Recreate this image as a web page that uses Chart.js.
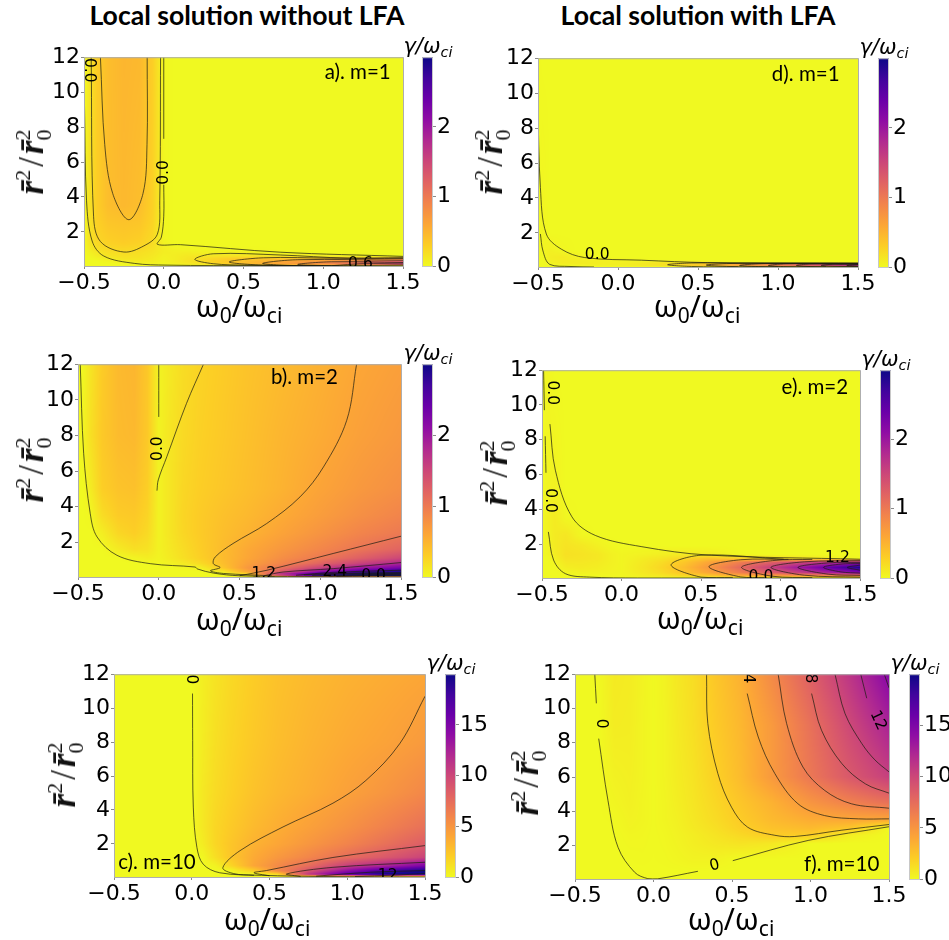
<!DOCTYPE html>
<html>
<head>
<meta charset="utf-8">
<script src="https://cdn.jsdelivr.net/npm/chart.js@4"></script>
<style>
  html, body { margin: 0; padding: 0; background: #fff; overflow: hidden; }
  #page { position: relative; width: 949px; height: 940px; overflow: hidden; }
  canvas { position: absolute; }
  .txt { position: absolute; transform: translate(-50%, -50%); white-space: nowrap; color: #000; line-height: 1; }
  .head { font: bold 26.6px Lato, "Open Sans", sans-serif; }
  .xt { font: 30px "Noto Sans", sans-serif; }
  .xt sub { font-size: 21px; vertical-align: -6px; line-height: 0; }
  .cb { font: italic 21px "DejaVu Sans", sans-serif; }
  .cb sub { font-size: 14.5px; vertical-align: -4px; line-height: 0; }
  .yt { font: italic bold 35px "Liberation Serif", serif; color: #111; }
  .yt .up { font-style: normal; font-weight: normal; margin: 0 3px; }
  .stack { display: inline-block; font-size: 22px; line-height: 21px; text-align: left; font-style: normal; font-weight: normal; }
  .stack span { display: block; }
  .stack.one { vertical-align: 13px; }
  .stack.two { vertical-align: -8px; }
</style>
</head>
<body>
<div id="page"></div>
<script>
const xTicks = [-0.5, 0, 0.5, 1, 1.5];
const yTicks = [2, 4, 6, 8, 10, 12];
const barTicksSmall = [0, 1, 2];
const barTicksBig = [0, 5, 10, 15];

// omega_0/omega_ci positions of the table columns, same for all panels
const omega = [-0.5, -0.47, -0.42, -0.35, -0.25, -0.15, -0.07, 0, 0.07, 0.15, 0.25, 0.4, 0.55, 0.75, 1, 1.25, 1.5];

const rowsA = [12, 3.5, 2.5, 1.6, 1.3, 1, 0.8, 0.6, 0.45, 0.3, 0.15, 0.05];
const gammaA = [
  [0, .12, .3, .42, .48, .46, .3, .02, 0, 0, 0, 0, 0, 0, 0, 0, 0],
  [0, .15, .3, .42, .46, .42, .28, .02, 0, 0, 0, 0, 0, 0, 0, 0, 0],
  [0, .15, .28, .36, .38, .36, .26, .02, 0, 0, 0, 0, 0, 0, 0, 0, 0],
  [0, .15, .25, .3, .33, .3, .22, .02, 0, 0, 0, 0, 0, 0, 0, 0, 0],
  [0, .12, .22, .27, .3, .27, .2, .05, 0, 0, 0, 0, 0, 0, 0, 0, 0],
  [0, .08, .18, .22, .24, .22, .16, .08, .05, .03, .02, .01, .01, 0, 0, 0, 0],
  [0, .05, .12, .18, .2, .18, .14, .08, .07, .08, .06, .06, .05, .01, 0, 0, 0],
  [0, .02, .08, .14, .17, .16, .12, .06, .08, .12, .14, .16, .16, .14, .1, .03, 0],
  [0, 0, .03, .08, .14, .14, .1, .05, .08, .14, .2, .3, .36, .38, .42, .5, .7],
  [0, 0, 0, .03, .08, .1, .08, .04, .08, .15, .22, .35, .45, .6, .75, 1, 1.3],
  [0, 0, 0, 0, .02, .04, .04, .02, .05, .1, .15, .3, .45, .65, .85, 1.2, 1.6],
  [0, 0, 0, 0, 0, 0, 0, 0, 0, 0, 0, 0, 0, 0, 0, 0, 0],
];
const linesA = [
  [[-.497, 9.34], [-.484, 3.78], [-.449, 1.48], [-.376, .62], [-.185, .2], [.02, .1], [.6, .07], [1.5, .05]],
  [[-.455, 12], [-.44, 2.9], [-.397, 1.45], [-.25, .85], [-.125, 1.2], [-.04, 1.87], [-.025, 3.78], [-.02, 12]],
  [[-.397, 12], [-.37, 7], [-.32, 4.2], [-.219, 2.7], [-.13, 4.2], [-.105, 7], [-.104, 12]],
  [[0, 12], [0, 7.33]],
  [[0, 4.7], [0, 2.9], [-.015, 1.7], [-.04, 1.29], [.105, 1.27], [.73, .84], [1.5, .6]],
  [[1.5, .53], [1.15, .5], [.73, .68], [.31, .75], [.195, .43], [.31, .18], [.52, .1], [1, .07], [1.5, .05]],
  [[1.5, .48], [1.05, .5], [.625, .52], [.41, .28], [.625, .1], [1, .07]],
  [[1.5, .38], [.84, .41], [.62, .2], [.8, .08], [1.1, .06]],
  [[1.5, .25], [1.05, .29], [.84, .14], [1.05, .06]],
  [[1.5, .16], [1.25, .18], [1.056, .07]],
];
const labelsA = [
  { x: -.47, y: 11.25, t: "0.0", r: 90 }, { x: 0, y: 5.4, t: "0.0", r: -90 }, { x: 1.233, y: .14, t: "0.6", r: 0 },
];

const rowsB = [12, 8, 5, 3.5, 2.5, 1.6, 1.1, 0.8, 0.55, 0.35, 0.22, 0.12, 0.05];
const gammaB = [
  [0, .02, .15, .32, .45, .48, .35, .04, .12, .2, .26, .32, .38, .44, .52, .6, .66],
  [0, .03, .18, .34, .44, .46, .34, .05, .14, .22, .28, .34, .4, .48, .56, .65, .72],
  [0, 0, .1, .3, .38, .4, .3, .05, .14, .24, .3, .36, .42, .5, .62, .72, .8],
  [0, 0, .02, .2, .32, .34, .26, .05, .14, .25, .32, .4, .46, .56, .68, .8, .9],
  [0, 0, 0, .08, .24, .3, .22, .05, .14, .24, .32, .42, .5, .62, .76, .9, 1],
  [0, 0, 0, 0, .1, .18, .16, .05, .12, .2, .3, .44, .58, .72, .88, 1.04, 1.2],
  [0, 0, 0, 0, 0, .04, .08, .04, .1, .18, .28, .44, .6, .8, 1, 1.25, 1.5],
  [0, 0, 0, 0, 0, 0, 0, .01, .05, .1, .2, .42, .65, .88, 1.2, 1.55, 1.85],
  [0, 0, 0, 0, 0, 0, 0, 0, 0, .02, .05, .36, .72, 1.05, 1.55, 2, 2.3],
  [0, 0, 0, 0, 0, 0, 0, 0, 0, 0, 0, .12, .6, 1.25, 2.1, 2.6, 2.9],
  [0, 0, 0, 0, 0, 0, 0, 0, 0, 0, 0, 0, .3, 1.7, 2.7, 3, 3],
  [0, 0, 0, 0, 0, 0, 0, 0, 0, 0, 0, 0, .1, 1.3, 2.8, 3, 3],
  [0, 0, 0, 0, 0, 0, 0, 0, 0, 0, 0, 0, 0, 0, 0, 0, 0],
];
const linesB = [
  [[-.486, 12], [-.465, 7], [-.424, 3.6], [-.382, 2.3], [-.259, 1.27], [-.053, .8], [.225, .61], [.24, .5], [.338, .27], [.5, .12], [.9, .08], [1.5, .06]],
  [[0, 12], [0, 9.04]],
  [[-.011, 4.9], [-.003, 5.5], [.05, 6.8], [.172, 9.8], [.277, 12]],
  [[1.225, 12], [1.164, 8.85], [1.02, 6.23], [.875, 4.55], [.668, 3.05], [.46, 1.93], [.35, 1.18], [.338, .8], [.38, .58], [.32, .4], [.4, .25], [.7, .12]],
  [[1.5, 2.34], [1.08, 1.37], [.67, .43], [.5, .12]],
  [[1.5, .86], [1.08, .52], [.77, .33], [.65, .12]],
  [[1.5, .43], [1.08, .31], [.85, .15]],
  [[1.5, .3], [1.1, .25], [.9, .17]],
  [[1.5, .25], [1.1, .21], [.95, .14]],
  [[1.5, .2], [1.2, .16], [1.05, .1]],
  [[1.5, .15], [1.25, .13], [1.1, .09]],
];
const labelsB = [
  { x: -.007, y: 7.26, t: "0.0", r: -90 }, { x: .65, y: .24, t: "1.2", r: 0 }, { x: 1.09, y: .33, t: "2.4", r: 0 }, { x: 1.33, y: .1, t: "0.0", r: 0 },
];

const rowsC = [12, 8, 5, 3, 2, 1.2, 0.7, 0.4, 0.2, 0.05];
const gammaC = [
  [0, 0, 0, 0, 0, 0, 0, 0, .5, 1, 1.5, 2.1, 2.6, 3, 3.4, 3.7, 4],
  [0, 0, 0, 0, 0, 0, 0, 0, .6, 1.2, 1.7, 2.3, 2.8, 3.3, 3.8, 4.2, 4.7],
  [0, 0, 0, 0, 0, 0, 0, 0, .8, 1.4, 1.9, 2.6, 3.1, 3.6, 4.3, 5, 5.8],
  [0, 0, 0, 0, 0, 0, 0, 0, .8, 1.6, 2.2, 3, 3.6, 4.3, 5.2, 6.2, 7.2],
  [0, 0, 0, 0, 0, 0, 0, 0, .6, 1.6, 2.4, 3.4, 4, 4.9, 6, 7.2, 8.4],
  [0, 0, 0, 0, 0, 0, 0, 0, .1, 1.2, 2.4, 3.8, 4.8, 5.9, 7.4, 8.8, 10.2],
  [0, 0, 0, 0, 0, 0, 0, 0, 0, .3, 1.6, 4, 5.6, 7.4, 10.5, 12.5, 15],
  [0, 0, 0, 0, 0, 0, 0, 0, 0, 0, .1, 2, 5.5, 9, 14, 18, 20],
  [0, 0, 0, 0, 0, 0, 0, 0, 0, 0, 0, 0, 1.5, 11, 17, 20, 20],
  [0, 0, 0, 0, 0, 0, 0, 0, 0, 0, 0, 0, 0, 0, 0, 0, 0],
];
const linesC = [
  [[.005, 10.86], [.006, 8.1], [.01, 4.17], [.033, 1.8], [.074, .8], [.18, .3], [.45, .15], [.85, .08], [1.5, .05]],
  [[1.5, 10.7], [1.337, 7.9], [1.12, 5.74], [.908, 4.4], [.587, 3], [.31, 1.6], [.2, .6], [.27, .25], [.4, .15]],
  [[1.5, 1.9], [.908, 1.2], [.48, .43], [.4, .3], [.5, .12]],
  [[1.5, .92], [.908, .62], [.61, .23], [.7, .08]],
  [[1.5, .43], [1.15, .33], [.8, .1]],
  [[1.5, .25], [1.3, .16], [1.05, .08]],
];
const labelsC = [
  { x: .022, y: 11.7, t: "0", r: -90 }, { x: 1.26, y: .12, t: "12", r: 0 },
];

const rowsD = [12, 2, 1, 0.6, 0.45, 0.3, 0.22, 0.12, 0.05];
const gammaD = [
  [.01, 0, 0, 0, 0, 0, 0, 0, 0, 0, 0, 0, 0, 0, 0, 0, 0],
  [0, .03, 0, 0, 0, 0, 0, 0, 0, 0, 0, 0, 0, 0, 0, 0, 0],
  [0, .03, .06, .02, 0, 0, 0, 0, 0, 0, 0, 0, 0, 0, 0, 0, 0],
  [0, 0, .08, .1, .05, 0, 0, 0, 0, 0, 0, 0, 0, 0, 0, 0, 0],
  [0, 0, .07, .09, .08, .07, .06, .05, .03, .02, 0, 0, 0, 0, 0, 0, 0],
  [0, 0, .06, .09, .09, .08, .07, .06, .07, .08, .12, .16, .1, 0, 0, 0, 0],
  [0, 0, .03, .07, .08, .08, .07, .07, .09, .12, .16, .25, .38, .6, .9, 1.3, 1.7],
  [0, 0, 0, .02, .04, .05, .05, .05, .07, .1, .14, .24, .38, .6, .9, 1.3, 1.8],
  [0, 0, 0, 0, 0, 0, 0, 0, 0, 0, 0, 0, 0, 0, 0, 0, 0],
];
const linesD = [
  [[-.5, 12], [-.5, 9.4], [-.485, 4.6], [-.448, 1.94], [-.354, 1.07], [-.208, .59], [.146, .44], [.56, .3], [1.5, .28]],
  [[-.485, 1.94], [-.469, .97], [-.427, .2], [-.3, .08], [-.15, .05]],
  [[1.5, .26], [.8, .27], [.46, .28], [.31, .18], [.46, .08], [.75, .05]],
  [[1.5, .25], [1, .26], [.7, .25], [.552, .16], [.7, .08], [1, .06]],
  [[1.5, .24], [1.1, .25], [.9, .24], [.76, .14], [.9, .07], [1.2, .06]],
  [[1.5, .23], [1.2, .24], [1.05, .23], [.94, .14], [1.05, .07], [1.3, .06]],
  [[1.5, .22], [1.3, .23], [1.2, .22], [1.115, .14], [1.2, .08], [1.5, .06]],
  [[1.5, .21], [1.35, .21], [1.27, .14], [1.35, .09], [1.5, .08]],
  [[1.5, .19], [1.43, .14], [1.5, .1]],
];
const labelsD = [{ x: -.13, y: .72, t: "0.0", r: 0 }];

const rowsE = [12, 5, 3.5, 2.5, 1.9, 1.4, 1.15, 0.95, 0.65, 0.35, 0.15, 0.05];
const gammaE = [
  [0, .03, 0, 0, 0, 0, 0, 0, 0, 0, 0, 0, 0, 0, 0, 0, 0],
  [0, .03, .05, 0, 0, 0, 0, 0, 0, 0, 0, 0, 0, 0, 0, 0, 0],
  [0, .05, .1, .02, 0, 0, 0, 0, 0, 0, 0, 0, 0, 0, 0, 0, 0],
  [0, .03, .1, .13, .02, 0, 0, 0, 0, 0, 0, 0, 0, 0, 0, 0, 0],
  [0, .03, .1, .15, .12, .06, .02, 0, 0, 0, 0, 0, 0, 0, 0, 0, 0],
  [0, .02, .08, .17, .15, .12, .06, .03, .04, .05, .07, .1, .08, 0, 0, 0, 0],
  [0, 0, .05, .15, .14, .12, .06, .03, .06, .1, .14, .26, .4, .3, .2, .1, 0],
  [0, 0, .03, .12, .12, .1, .06, .03, .07, .12, .2, .36, .6, .95, 1.3, 1.6, 1.9],
  [0, 0, .01, .08, .1, .08, .05, .03, .08, .14, .24, .44, .72, 1.15, 1.7, 2.3, 2.9],
  [0, 0, 0, .02, .05, .05, .04, .03, .07, .12, .2, .38, .6, .95, 1.35, 1.8, 2.2],
  [0, 0, 0, 0, 0, .01, .02, .02, .04, .08, .12, .22, .32, .5, .6, .7, .85],
  [0, 0, 0, 0, 0, 0, 0, 0, 0, 0, 0, 0, 0, 0, 0, 0, 0],
];
const linesE = [
  [[-.45, 8.9], [-.416, 6.25], [-.312, 3.57], [-.165, 2.5], [.128, 1.85], [.544, 1.37], [1.5, 1.13]],
  [[-.49, 12], [-.485, 9.7]],
  [[-.48, 8.2], [-.475, 6.1]],
  [[-.46, 2.7], [-.427, 1.08], [-.353, .3], [-.2, .1], [.1, .05], [.7, .05], [1.5, .05]],
  [[1.02, 1.13], [.5, 1.36], [.312, .8], [.5, .1], [.7, .07]],
  [[1.05, 1.12], [.75, 1.1], [.55, .7], [.75, .11], [.9, .07]],
  [[1.2, 1.12], [.95, 1.05], [.755, .66], [.95, .15], [1.2, .07]],
  [[1.5, 1.05], [1.15, .98], [.94, .66], [1.15, .21], [1.5, .1]],
  [[1.5, .95], [1.3, .92], [1.11, .66], [1.3, .27], [1.5, .2]],
  [[1.5, .88], [1.38, .85], [1.27, .66], [1.38, .4], [1.5, .33]],
  [[1.5, .79], [1.42, .66], [1.5, .5]],
];
const labelsE = [
  { x: -.44, y: 10.7, t: "0.0", r: 90 }, { x: -.447, y: 4.5, t: "0.0", r: 90 }, { x: 1.358, y: 1.18, t: "1.2", r: 0 }, { x: .877, y: .11, t: "0.0", r: 0 },
];

const rowsF = [12, 9, 6, 4.5, 3.5, 3, 2.6, 2.1, 1.2, 0.5, 0.05];
const gammaF = [
  [0, 0, 0, .05, .7, .6, .3, .05, .3, .8, 1.3, 2.4, 3.4, 5.6, 8.3, 11.2, 14.5],
  [0, 0, 0, 0, .6, .55, .25, .05, .25, .7, 1.2, 2.2, 3.1, 4.7, 7.2, 9.9, 12.5],
  [0, 0, 0, 0, .35, .45, .25, .05, .25, .6, 1, 1.9, 2.9, 4.7, 6.8, 8.8, 10.5],
  [0, 0, 0, 0, .2, .4, .2, .05, .2, .5, .9, 1.6, 2.4, 3.4, 5, 6.2, 7.2],
  [0, 0, 0, 0, .05, .3, .2, .05, .2, .4, .8, 1.4, 2.1, 3, 3.7, 3.95, 4],
  [0, 0, 0, 0, 0, .25, .15, .05, .15, .35, .7, 1.2, 1.9, 2.6, 3, 2.4, 0],
  [0, 0, 0, 0, 0, .15, .12, .04, .12, .3, .55, 1, 1.5, 2.1, 2.1, .5, 0],
  [0, 0, 0, 0, 0, .1, .1, .03, .1, .25, .5, .8, 1, .8, 0, 0, 0],
  [0, 0, 0, 0, 0, .02, .05, .02, .05, .15, .3, .3, 0, 0, 0, 0, 0],
  [0, 0, 0, 0, 0, 0, 0, 0, 0, 0, .02, 0, 0, 0, 0, 0, 0],
  [0, 0, 0, 0, 0, 0, 0, 0, 0, 0, 0, 0, 0, 0, 0, 0, 0],
];
const linesF = [
  [[-.374, 12], [-.364, 10.3]],
  [[-.349, 8.24], [-.29, 4.63], [-.226, 1.9], [-.12, .44], [-.036, .07], [.027, .06], [.283, .5]],
  [[.505, 1.12], [.985, 2.3], [1.5, 3.1]],
  [[.338, 12], [.346, 9.12], [.41, 6.2], [.497, 4.24], [.6, 3.07], [.773, 2.6], [.9, 2.53], [1.2, 2.9], [1.5, 3.23]],
  [[.597, 10.87], [.667, 8.34], [.773, 6.2], [.92, 4.44], [1.09, 3.75], [1.305, 3.56], [1.5, 3.56]],
  [[.794, 12], [.848, 9.12], [.952, 6.58], [1.09, 5.22], [1.26, 4.44], [1.5, 4.18]],
  [[1.007, 10.87], [1.07, 8.73], [1.2, 6.78], [1.35, 5.6], [1.5, 5.06]],
  [[1.156, 12], [1.22, 9.7], [1.327, 7.95], [1.41, 7], [1.5, 6.3]],
  [[1.32, 12], [1.358, 10.6]],
  [[1.47, 12], [1.5, 11.2]],
];
const labelsF = [
  { x: -.336, y: 9.12, t: "0", r: 90 }, { x: .39, y: .83, t: "0", r: -15 }, { x: .6, y: 11.75, t: "4", r: 90 },
  { x: .996, y: 11.75, t: "8", r: 90 }, { x: 1.43, y: 9.3, t: "12", r: 65 },
];

// plasma, reversed, in equal steps
const colorStops = ["#f0f921", "#fcce25", "#fca636", "#f2844b", "#e16462", "#cc4778", "#b12a90", "#8f0da4", "#6a00a8", "#41049d", "#0d0887"];
const stopRgb = colorStops.map((c) => [1, 3, 5].map((i) => parseInt(c.substr(i, 2), 16)));

const colorAt = (t) => {
  const f = Math.min(Math.max(t, 0), 1) * (stopRgb.length - 1);
  const i = Math.min(Math.floor(f), stopRgb.length - 2);
  const k = f - i;
  return stopRgb[i].map((c, n) => c + (stopRgb[i + 1][n] - c) * k);
};

// finds the table interval that holds v, the list can run either way
const bracket = (list, v) => {
  for (let i = 0; i < list.length - 1; i++) {
    const a = list[i], b = list[i + 1];
    if ((v >= a && v <= b) || (v <= a && v >= b)) return [i, (v - a) / (b - a)];
  }
  return Math.abs(v - list[0]) < Math.abs(v - list[list.length - 1]) ? [0, 0] : [list.length - 2, 1];
};

// shades the table nodes held by the first dataset, gouraud style like pcolormesh
const heatPlugin = {
  id: "heat",
  beforeDatasetsDraw(chart) {
    const { ctx, chartArea: a, scales } = chart;
    const ds = chart.data.datasets[0];
    const cols = ds.cols, rows = ds.rows, vmax = ds.vmax;
    const w = Math.round(a.right - a.left), h = Math.round(a.bottom - a.top);
    const img = ctx.createImageData(w, h);
    for (let py = 0; py < h; py++) {
      const [j, fy] = bracket(rows, scales.y.getValueForPixel(a.top + py + 0.5));
      for (let px = 0; px < w; px++) {
        const [i, fx] = bracket(cols, scales.x.getValueForPixel(a.left + px + 0.5));
        const n = cols.length;
        const top = ds.data[j * n + i].v * (1 - fx) + ds.data[j * n + i + 1].v * fx;
        const bot = ds.data[(j + 1) * n + i].v * (1 - fx) + ds.data[(j + 1) * n + i + 1].v * fx;
        const c = colorAt((top * (1 - fy) + bot * fy) / vmax);
        const o = (py * w + px) * 4;
        img.data[o] = c[0]; img.data[o + 1] = c[1]; img.data[o + 2] = c[2]; img.data[o + 3] = 255;
      }
    }
    ctx.putImageData(img, a.left, a.top);
  },
};

// contour labels and the panel tag, in data units, cut at the frame like matplotlib
const notePlugin = {
  id: "notes",
  afterDatasetsDraw(chart, args, opts) {
    const { ctx, chartArea: a, scales } = chart;
    ctx.save();
    ctx.beginPath();
    ctx.rect(a.left, a.top, a.right - a.left, a.bottom - a.top);
    ctx.clip();
    ctx.textAlign = "center";
    ctx.textBaseline = "middle";
    ctx.fillStyle = "#000";
    ctx.font = '15.5px "DejaVu Sans"';
    opts.labels.forEach((l) => {
      ctx.save();
      ctx.translate(scales.x.getPixelForValue(l.x), scales.y.getPixelForValue(l.y));
      ctx.rotate((l.r * Math.PI) / 180);
      ctx.fillText(l.t, 0, 0);
      ctx.restore();
    });
    ctx.font = "20.5px Lato";
    ctx.fillText(opts.tag.t, scales.x.getPixelForValue(opts.tag.x), scales.y.getPixelForValue(opts.tag.y));
    ctx.restore();
    ctx.strokeStyle = "#aeaeae";
    ctx.lineWidth = 1;
    ctx.strokeRect(a.left + 0.5, a.top + 0.5, a.right - a.left, a.bottom - a.top);
  },
};

const barPlugin = {
  id: "bar",
  beforeDatasetsDraw(chart) {
    const { ctx, chartArea: a, scales } = chart;
    const g = ctx.createLinearGradient(0, scales.y.getPixelForValue(scales.y.min), 0, scales.y.getPixelForValue(scales.y.max));
    colorStops.forEach((c, i) => g.addColorStop(i / (colorStops.length - 1), c));
    ctx.fillStyle = g;
    ctx.fillRect(a.left, a.top, a.right - a.left, a.bottom - a.top);
    ctx.strokeStyle = "#c8c8c8";
    ctx.lineWidth = 1;
    ctx.strokeRect(a.left + 0.5, a.top + 0.5, a.right - a.left - 1, a.bottom - a.top);
  },
};

const tickFont = { family: "DejaVu Sans", size: 22 };
const page = document.getElementById("page");

const addCanvas = (left, top, width, height) => {
  const c = document.createElement("canvas");
  c.width = width;
  c.height = height;
  c.style.left = left + "px";
  c.style.top = top + "px";
  page.appendChild(c);
  return c;
};

const addText = (cls, html, x, y, rot) => {
  const d = document.createElement("div");
  d.className = "txt " + cls;
  d.innerHTML = html;
  d.style.left = x + "px";
  d.style.top = y + "px";
  if (rot) d.style.transform = "translate(-50%, -50%) rotate(" + rot + "deg)";
  page.appendChild(d);
};

const drawPanel = (p) => {
  const padL = 66, padT = 14, padR = 24, padB = 34;
  const nodes = [];
  p.rows.forEach((y, j) => omega.forEach((x, i) => nodes.push({ x, y, v: p.gamma[j][i] })));

  new Chart(addCanvas(p.left - padL, p.top - padT, p.right - p.left + padL + padR, p.bottom - p.top + padT + padB), {
    type: "scatter",
    data: {
      datasets: [
        { data: nodes, pointRadius: 0, showLine: false, cols: omega, rows: p.rows, vmax: p.vmax },
        ...p.lines.map((line) => ({
          data: line.map(([x, y]) => ({ x, y })),
          showLine: true,
          pointRadius: 0,
          tension: 0.35,
          borderWidth: 0.9,
          borderColor: "rgba(30,30,20,0.8)",
        })),
      ],
    },
    options: {
      responsive: false,
      animation: false,
      events: [],
      layout: { autoPadding: false, padding: { top: padT, right: padR, left: 0, bottom: 0 } },
      plugins: { legend: { display: false }, tooltip: { enabled: false }, notes: { labels: p.labels, tag: p.tag } },
      scales: {
        x: {
          type: "linear",
          min: -0.5,
          max: 1.5,
          afterFit: (s) => { s.height = padB; },
          afterBuildTicks: (s) => { s.ticks = xTicks.map((value) => ({ value })); },
          grid: { drawOnChartArea: false, tickLength: 3, color: "#8a8a8a" },
          border: { color: "#aeaeae" },
          ticks: {
            font: tickFont, color: "#000", padding: 1, maxRotation: 0, autoSkip: false,
            callback: (v) => v.toFixed(1).replace("-", "\u2212"),
          },
        },
        y: {
          type: "linear",
          min: 0.05,
          max: 12,
          afterFit: (s) => { s.width = padL; },
          afterBuildTicks: (s) => { s.ticks = yTicks.map((value) => ({ value })); },
          grid: { drawOnChartArea: false, tickLength: 3, color: "#8a8a8a" },
          border: { color: "#aeaeae" },
          ticks: { font: tickFont, color: "#000", padding: 1, autoSkip: false },
        },
      },
    },
    plugins: [heatPlugin, notePlugin],
  });

  // colour bar with its own axis
  const barW = 11, barR = 42;
  new Chart(addCanvas(p.bar, p.top - padT, barW + barR, p.bottom - p.top + padT + padB), {
    type: "scatter",
    data: { datasets: [{ data: [] }] },
    options: {
      responsive: false,
      animation: false,
      events: [],
      layout: { autoPadding: false, padding: { top: padT, bottom: padB, left: 0, right: 0 } },
      plugins: { legend: { display: false }, tooltip: { enabled: false } },
      scales: {
        x: { display: false },
        y: {
          position: "right",
          min: 0,
          max: p.vmax,
          afterFit: (s) => { s.width = barR; },
          afterBuildTicks: (s) => { s.ticks = p.barTicks.map((value) => ({ value })); },
          grid: { drawOnChartArea: false, tickLength: 3, color: "#8a8a8a" },
          border: { display: false },
          ticks: { font: tickFont, color: "#000", padding: 1, autoSkip: false },
        },
      },
    },
    plugins: [barPlugin],
  });

  addText("xt", "\u03c9<sub>0</sub>/\u03c9<sub>ci</sub>", p.xTitle[0], p.xTitle[1]);
  addText("yt", 'r\u0304<span class="stack one"><span>2</span></span><span class="up">/</span>r\u0304<span class="stack two"><span>2</span><span>0</span></span>', p.yTitle[0], p.yTitle[1], -90);
  addText("cb", "\u03b3/\u03c9<sub>ci</sub>", p.bar + 6, p.top - 11);
};

addText("head", "Local solution without LFA", 247, 15);
addText("head", "Local solution with LFA", 698, 15);

drawPanel({ left: 84, right: 403, top: 57, bottom: 266, bar: 422, vmax: 3, barTicks: barTicksSmall, rows: rowsA, gamma: gammaA, lines: linesA, labels: labelsA, tag: { t: "a). m=1", x: 1.216, y: 11.15 }, xTitle: [239, 305], yTitle: [33, 162] });
drawPanel({ left: 78, right: 401, top: 364, bottom: 577, bar: 422, vmax: 3, barTicks: barTicksSmall, rows: rowsB, gamma: gammaB, lines: linesB, labels: labelsB, tag: { t: "b). m=2", x: .902, y: 11.25 }, xTitle: [239, 618], yTitle: [33, 470] });
drawPanel({ left: 114, right: 425, top: 674, bottom: 877, bar: 445, vmax: 20, barTicks: barTicksBig, rows: rowsC, gamma: gammaC, lines: linesC, labels: labelsC, tag: { t: "c). m=10", x: -.224, y: .92 }, xTitle: [267, 918], yTitle: [65, 775] });
drawPanel({ left: 538, right: 858, top: 58, bottom: 267, bar: 878, vmax: 3, barTicks: barTicksSmall, rows: rowsD, gamma: gammaD, lines: linesD, labels: labelsD, tag: { t: "d). m=1", x: 1.173, y: 11.1 }, xTitle: [697, 305], yTitle: [492, 162] });
drawPanel({ left: 542, right: 860, top: 370, bottom: 578, bar: 880, vmax: 3, barTicks: barTicksSmall, rows: rowsE, gamma: gammaE, lines: linesE, labels: labelsE, tag: { t: "e). m=2", x: 1.216, y: 11.04 }, xTitle: [700, 617], yTitle: [497, 473] });
drawPanel({ left: 575, right: 889, top: 674, bottom: 879, bar: 909, vmax: 20, barTicks: barTicksBig, rows: rowsF, gamma: gammaF, lines: linesF, labels: labelsF, tag: { t: "f). m=10", x: 1.198, y: .9 }, xTitle: [731, 918], yTitle: [528, 783] });
</script>
</body>
</html>
